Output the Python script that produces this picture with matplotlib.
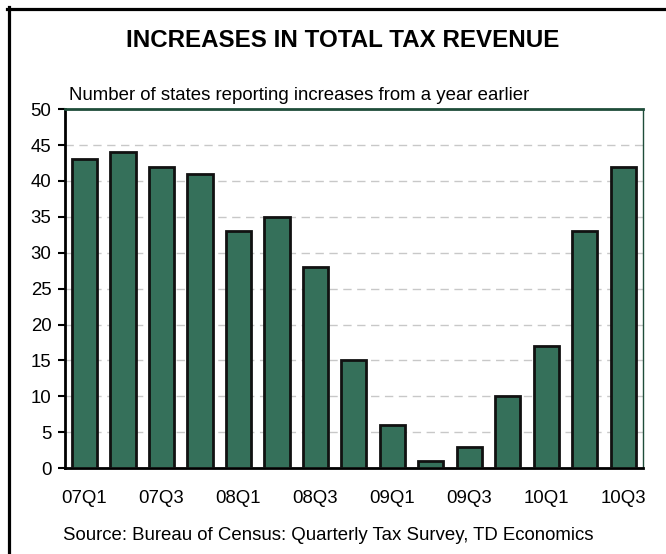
import matplotlib
matplotlib.use('Agg')
import matplotlib.pyplot as plt
from matplotlib.lines import Line2D

plt.rcParams['font.family'] = ['Liberation Sans', 'DejaVu Sans']

quarters = ['07Q1', '07Q2', '07Q3', '07Q4', '08Q1', '08Q2', '08Q3', '08Q4',
            '09Q1', '09Q2', '09Q3', '09Q4', '10Q1', '10Q2', '10Q3']
states = [43, 44, 42, 41, 33, 35, 28, 15, 6, 1, 3, 10, 17, 33, 42]

fig = plt.figure(figsize=(6.66, 5.54), dpi=100)
ax = fig.add_axes([0.098, 0.155, 0.867, 0.648])

x = list(range(len(quarters)))
ax.bar(x, states, width=0.65, color='#35705a', edgecolor='#111111', linewidth=2, zorder=3)

ax.set_ylim(0, 50)
ax.set_xlim(-0.5, len(quarters) - 0.5)
ax.set_yticks(range(0, 51, 5))
ax.set_xticks(x[::2])
ax.set_xticklabels(quarters[::2])
ax.tick_params(axis='x', length=0, pad=15.5, labelsize=13.4)
ax.tick_params(axis='y', direction='out', length=5, width=1.5, pad=5, labelsize=13.4)
ax.yaxis.grid(True, color='#c8c8c8', linestyle=(0, (6, 4)), linewidth=1, zorder=0)

ax.spines['left'].set_linewidth(2)
ax.spines['bottom'].set_linewidth(2)
ax.spines['top'].set_color('#1f4d3a')
ax.spines['right'].set_color('#1f4d3a')
ax.spines['top'].set_linewidth(2)
ax.spines['right'].set_linewidth(1)

fig.text(0.515, 0.926, 'INCREASES IN TOTAL TAX REVENUE', ha='center', va='center',
         fontsize=17.4, fontweight='bold')
fig.text(0.103, 0.827, 'Number of states reporting increases from a year earlier',
         ha='left', va='center', fontsize=13.4)
fig.text(0.094, 0.0325, 'Source: Bureau of Census: Quarterly Tax Survey, TD Economics',
         ha='left', va='center', fontsize=13.4)

# frame: only top and left edges show in the reference
top_y = 1 - 8.5 / 554
left_x = 8.5 / 666
fig.lines.append(Line2D([left_x - 0.002, 1], [top_y, top_y], transform=fig.transFigure,
                        color='black', linewidth=2.3))
fig.lines.append(Line2D([left_x, left_x], [0, top_y + 0.002], transform=fig.transFigure,
                        color='black', linewidth=2.3))

fig.savefig('out.png', dpi=100)
